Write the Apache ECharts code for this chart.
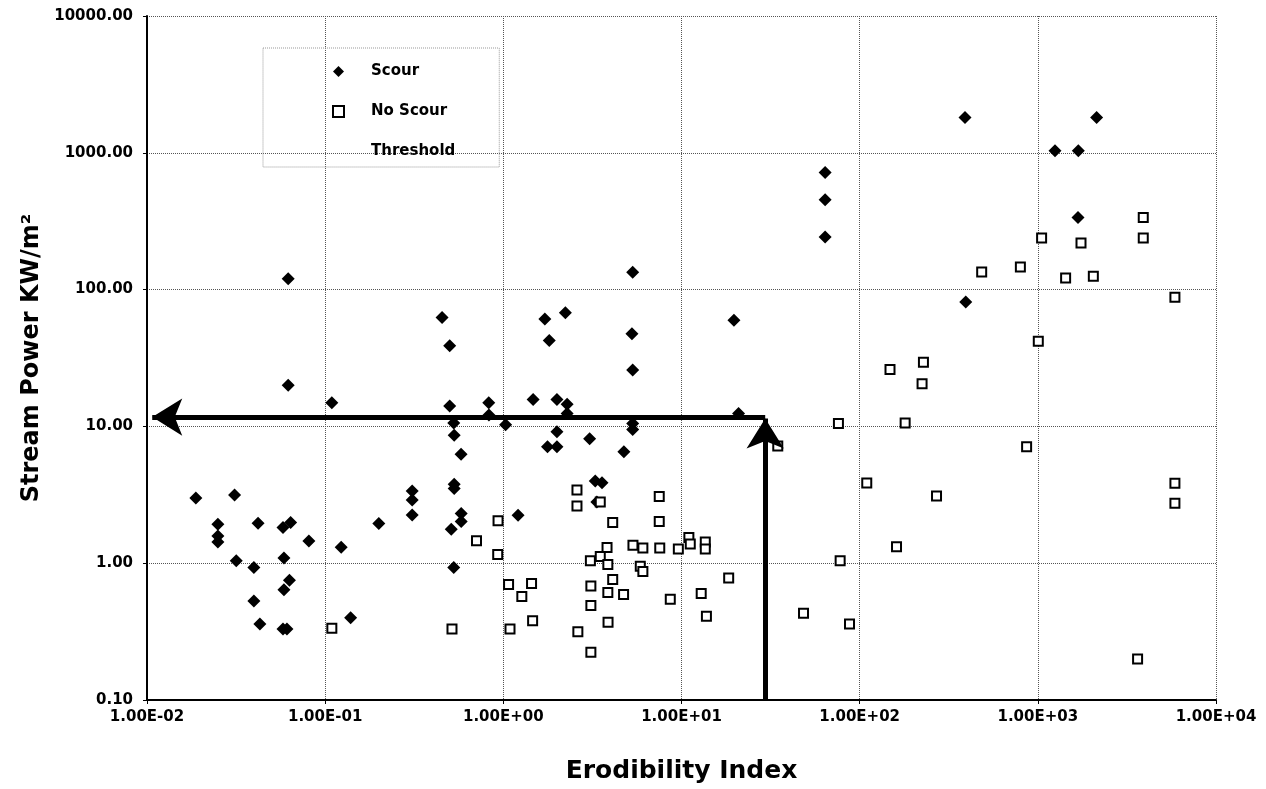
<!DOCTYPE html>
<html>
<head>
<meta charset="utf-8">
<script src="https://cdn.jsdelivr.net/npm/echarts@6/dist/echarts.min.js"></script>
<style>
  html, body { margin: 0; padding: 0; background: #fff; }
  #chart { width: 1266px; height: 789px; }
</style>
</head>
<body>
<div id="chart"></div>
<script>
// Scour points: [erodibility index, stream power]
const scour = [
  [0.0188, 3.0], [0.031, 3.15], [0.025, 1.93], [0.025, 1.58], [0.025, 1.43],
  [0.0317, 1.04], [0.042, 1.96], [0.0398, 0.93], [0.0398, 0.53], [0.043, 0.36],
  [0.058, 1.82], [0.064, 1.98], [0.0587, 1.09], [0.063, 0.75], [0.0587, 0.64],
  [0.058, 0.33], [0.061, 0.33], [0.062, 120], [0.062, 20], [0.081, 1.45],
  [0.109, 14.9], [0.123, 1.31], [0.139, 0.40], [0.2, 1.95], [0.308, 3.37],
  [0.308, 2.9], [0.308, 2.25], [0.453, 62.5], [0.5, 38.8], [0.5, 14.1],
  [0.527, 10.6], [0.53, 8.6], [0.579, 6.25], [0.53, 3.77], [0.53, 3.51],
  [0.58, 2.31], [0.58, 2.02], [0.51, 1.77], [0.527, 0.93], [0.828, 14.9],
  [0.83, 12.1], [1.03, 10.3], [1.21, 2.24], [1.47, 15.7], [1.71, 61],
  [1.81, 42.4], [2.0, 15.7], [2.28, 14.5], [2.28, 12.4], [2.0, 9.15],
  [1.77, 7.1], [2.0, 7.1], [2.23, 67.6], [3.05, 8.13], [3.28, 3.99],
  [3.58, 3.88], [3.35, 2.8], [4.75, 6.53], [5.32, 133.7], [5.27, 47.5],
  [5.32, 25.8], [5.32, 10.5], [5.32, 9.5], [19.7, 59.7], [20.9, 12.4],
  [64, 718], [64, 454], [64, 242], [390, 1811], [2138, 1811],
  [1248, 1035], [1687, 1035], [1680, 337], [394, 81.3]
];

// No Scour points
const noScour = [
  [0.109, 0.334], [0.515, 0.33], [0.707, 1.46], [0.934, 2.04], [0.93, 1.16],
  [1.07, 0.70], [1.09, 0.33], [1.27, 0.57], [1.44, 0.71], [1.46, 0.38],
  [2.59, 3.43], [2.59, 2.62], [2.62, 0.315], [3.5, 2.8], [3.5, 1.12],
  [3.08, 1.04], [3.1, 0.68], [3.1, 0.49], [3.1, 0.223], [3.82, 1.30],
  [3.86, 0.98], [3.86, 0.61], [3.87, 0.37], [4.11, 1.98], [4.11, 0.76],
  [4.73, 0.59], [5.34, 1.35], [6.07, 1.29], [5.87, 0.95], [6.07, 0.87],
  [7.5, 3.07], [7.5, 2.02], [7.55, 1.29], [8.65, 0.546], [9.6, 1.27],
  [11, 1.54], [11.2, 1.38], [12.9, 0.6], [13.6, 1.43], [13.6, 1.27],
  [13.8, 0.41], [18.4, 0.78], [34.7, 7.18], [48.4, 0.43], [76, 10.5],
  [77.7, 1.04], [87.7, 0.36], [109.6, 3.86], [148, 26.1], [161, 1.32],
  [180, 10.6], [224, 20.5], [228, 29.5], [270, 3.1], [484, 134.6],
  [798, 146.5], [865, 7.1], [1006, 42], [1050, 238], [1432, 121.7],
  [1747, 219], [2049, 125], [3906, 337], [3906, 238], [5880, 88],
  [5880, 3.84], [5880, 2.74], [3630, 0.199]
];

// threshold arrows: vertical from the axis up, horizontal back to the left
const thresholdIndex = 29.5;
const thresholdPower = 11.7;
const arrowUpTip = [thresholdIndex, 11.4];
const arrowLeftTip = [0.0107, thresholdPower];

const seriesNames = ['Scour', 'No Scour', 'Threshold'];

const FONT = 'DejaVu Sans';

function sciLabel(v) {
  const e = Math.round(Math.log10(v));
  const m = v / Math.pow(10, e);
  const sign = e < 0 ? '-' : '+';
  return m.toFixed(2) + 'E' + sign + String(Math.abs(e)).padStart(2, '0');
}

const gridLine = { show: true, lineStyle: { type: 'dotted', color: '#555', width: 1 } };

const chart = echarts.init(document.getElementById('chart'));

const option = {
  backgroundColor: '#fff',
  animation: false,
  grid: { left: 147, right: 50, top: 16, bottom: 88 },
  legend: {
    orient: 'vertical',
    left: 263,
    top: 48,
    padding: [16, 44, 8, 69],
    itemWidth: 11,
    itemHeight: 11,
    itemGap: 25,
    borderColor: '#999',
    borderWidth: 1,
    borderType: 'dotted',
    textStyle: {
      fontFamily: FONT, fontWeight: 'bold', fontSize: 15, color: '#000',
      padding: [0, 0, 0, 22]
    },
    data: [
      { name: seriesNames[0] },
      { name: seriesNames[1] },
      { name: seriesNames[2], icon: 'none' }
    ]
  },
  xAxis: {
    type: 'log',
    logBase: 10,
    min: 0.01,
    max: 10000,
    name: 'Erodibility Index',
    nameLocation: 'middle',
    nameGap: 59,
    nameTextStyle: { fontFamily: FONT, fontWeight: 'bold', fontSize: 25, color: '#000' },
    axisLine: { lineStyle: { color: '#000', width: 2 } },
    axisTick: { show: true, length: 4, lineStyle: { color: '#000' } },
    axisLabel: {
      formatter: sciLabel,
      margin: 10,
      fontFamily: FONT, fontWeight: 'bold', fontSize: 15, color: '#000'
    },
    splitLine: gridLine
  },
  yAxis: {
    type: 'log',
    logBase: 10,
    min: 0.1,
    max: 10000,
    name: 'Stream Power KW/m²',
    nameLocation: 'middle',
    nameGap: 102,
    nameTextStyle: { fontFamily: FONT, fontWeight: 'bold', fontSize: 24, color: '#000' },
    axisLine: { show: true, lineStyle: { color: '#000', width: 2 } },
    axisTick: { show: true, length: 4, lineStyle: { color: '#000' } },
    axisLabel: {
      formatter: v => v.toFixed(2),
      margin: 14,
      fontFamily: FONT, fontWeight: 'bold', fontSize: 15, color: '#000'
    },
    splitLine: gridLine
  },
  series: [
    {
      name: seriesNames[0],
      type: 'scatter',
      symbol: 'diamond',
      symbolSize: 13,
      itemStyle: { color: '#000', opacity: 1 },
      data: scour,
      z: 3
    },
    {
      name: seriesNames[1],
      type: 'scatter',
      symbol: 'rect',
      symbolSize: 9,
      itemStyle: { color: '#fff', borderColor: '#000', borderWidth: 2, opacity: 1 },
      data: noScour,
      z: 4
    },
    {
      name: seriesNames[2],
      type: 'line',
      data: [],
      z: 5,
      markLine: {
        silent: true,
        symbol: ['none', 'arrow'],
        symbolSize: [28, 30],
        label: { show: false },
        lineStyle: { type: 'solid', color: '#000', width: 5 },
        data: [
          [{ coord: [thresholdIndex, 0.1] }, { coord: arrowUpTip }],
          [{ coord: [thresholdIndex, thresholdPower] }, { coord: arrowLeftTip }]
        ]
      }
    }
  ]
};

chart.setOption(option);
</script>
</body>
</html>
